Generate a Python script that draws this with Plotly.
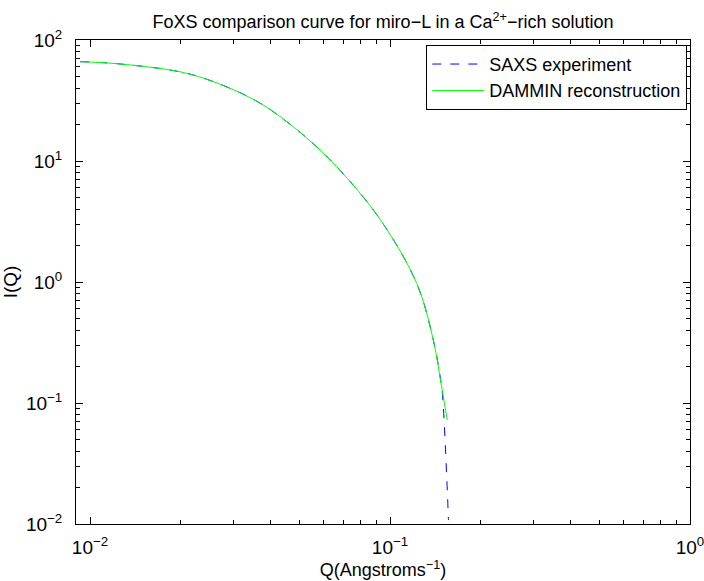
import numpy as np
import plotly.graph_objects as go

# Scattering vector Q (1/Angstrom) and intensity I(Q)
q_saxs = [0.00926, 0.01259, 0.0210, 0.0293, 0.0355, 0.0398, 0.0514, 0.0664,
          0.0926, 0.1227, 0.1394, 0.1486, 0.1506, 0.1531, 0.1557, 0.1566]
i_saxs = [66.2, 63.4, 53.1, 39.9, 31.7, 26.7, 16.4, 8.98,
          3.30, 0.975, 0.332, 0.136, 0.093, 0.041, 0.0158, 0.0108]

q_dammin = [0.00926, 0.01259, 0.0210, 0.0293, 0.0355, 0.0398, 0.0514, 0.0664,
            0.0926, 0.1227, 0.1394, 0.1486, 0.1552]
i_dammin = [66.2, 63.4, 53.1, 39.9, 31.7, 26.7, 16.4, 8.98,
            3.30, 0.975, 0.332, 0.136, 0.0724]

x_tick_vals = [0.01, 0.1, 1]
x_tick_text = ["10<sup>−2</sup>", "10<sup>−1</sup>", "10<sup>0</sup>"]
y_tick_vals = [0.01, 0.1, 1, 10, 100]
y_tick_text = ["10<sup>−2</sup>", "10<sup>−1</sup>", "10<sup>0</sup>",
               "10<sup>1</sup>", "10<sup>2</sup>"]

FONT = "Liberation Sans, Arial, Helvetica, sans-serif"


def minor_vals(lo_exp, hi_exp):
    vals = []
    for e in range(lo_exp, hi_exp):
        for m in range(2, 10):
            vals.append(m * 10.0 ** e)
    return vals


fig = go.Figure()
fig.add_trace(go.Scatter(
    x=q_saxs, y=i_saxs, mode="lines", name="SAXS experiment",
    line=dict(color="rgb(0,0,255)", width=1, dash="dash", shape="spline", smoothing=1.0),
))
fig.add_trace(go.Scatter(
    x=q_dammin, y=i_dammin, mode="lines", name="DAMMIN reconstruction",
    line=dict(color="rgb(0,255,0)", width=1, shape="spline", smoothing=1.0),
))

axis_common = dict(
    showline=True, linecolor="black", linewidth=1, mirror="ticks",
    ticks="inside", ticklen=7, tickwidth=1, tickcolor="black",
    showgrid=False, zeroline=False, automargin=False,
    tickfont=dict(family=FONT, size=19, color="black"),
    tickmode="array", ticklabeloverflow="allow",
)

fig.update_xaxes(
    type="log", range=[np.log10(0.00898), 0],
    tickvals=x_tick_vals, ticktext=x_tick_text,
    minor=dict(tickmode="array", tickvals=minor_vals(-3, 0), ticks="inside",
               ticklen=4, tickcolor="black", showgrid=False),
    title=dict(text="Q(Angstroms<sup>−1</sup>)", font=dict(family=FONT, size=18, color="black"),
               standoff=2),
    ticklabelstandoff=6,
    **axis_common,
)
fig.update_yaxes(
    type="log", range=[-2, 2],
    tickvals=y_tick_vals, ticktext=y_tick_text,
    minor=dict(tickmode="array", tickvals=minor_vals(-2, 2), ticks="inside",
               ticklen=4, tickcolor="black", showgrid=False),
    title=dict(text="I(Q)", font=dict(family=FONT, size=19, color="black"), standoff=6),
    ticklabelstandoff=9,
    **axis_common,
)

fig.update_layout(
    width=704, height=581,
    margin=dict(l=76, r=14, t=40, b=57),
    paper_bgcolor="white", plot_bgcolor="white",
    title=dict(
        text="FoXS comparison curve for miro−L in a Ca<sup>2+</sup>−rich solution",
        font=dict(family=FONT, size=18, color="black"),
        x=(76 + 690) / 2 / 704, xanchor="center",
        y=1 - 22 / 581, yanchor="middle",
    ),
    legend=dict(
        x=0.9956, xanchor="right", y=0.990, yanchor="top",
        bgcolor="white", bordercolor="black", borderwidth=1,
        font=dict(family=FONT, size=18, color="black"),
        itemwidth=52, tracegroupgap=0,
    ),
    showlegend=True,
)

fig.write_html("out.html")
